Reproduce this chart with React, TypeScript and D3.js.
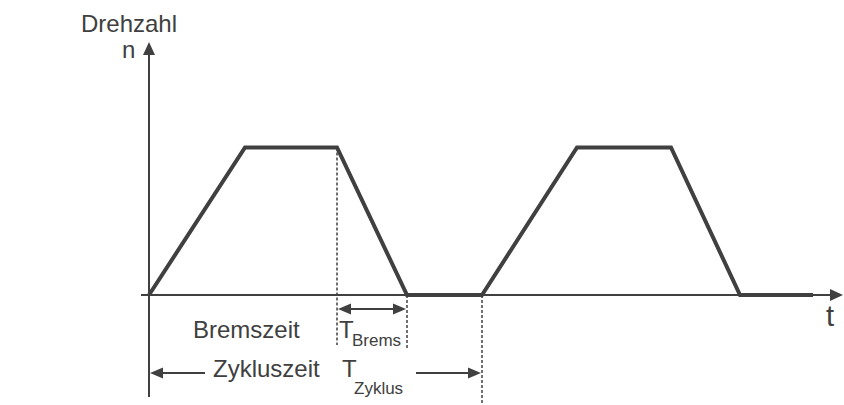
import React from 'react';
import * as d3 from 'd3';

// speed profile: two cycles of accelerate / hold / brake / stand still
const times = [0, 9.6, 18.8, 25.8, 33.3, 42.8, 52.2, 59.1, 66.4];
const speeds = [0, 1, 1, 0, 0, 1, 1, 0, 0];

// marker times for the annotations
const brakeStart = 18.8;
const brakeEnd = 25.8;
const cycleEnd = 33.3;

const labels = {
    yTitle: 'Drehzahl',
    yName: 'n',
    xName: 't',
    brake: 'Bremszeit',
    cycle: 'Zykluszeit',
};

const W = 844;
const H = 405;
const ink = '#404040';
const font = '"Liberation Sans", Arial, Helvetica, sans-serif';

const App = () => {
    const x = d3.scaleLinear().domain([0, 69.4]).range([149, 843]);
    const y = d3.scaleLinear().domain([0, 1]).range([295, 147.5]);

    const line = d3
        .line<number>()
        .x((d, i) => x(times[i]))
        .y(d => y(d));

    const x0 = x(0);
    const y0 = y(0);
    const axisEnd = x(69.4);
    const yTop = 42;

    // small filled triangle pointing in direction dir (radians), tip at (tx, ty)
    const head = (tx, ty, dir, len = 12, half = 5) => {
        const bx = tx - Math.cos(dir) * len;
        const by = ty - Math.sin(dir) * len;
        const px = -Math.sin(dir) * half;
        const py = Math.cos(dir) * half;
        return `M${tx},${ty}L${bx + px},${by + py}L${bx - px},${by - py}Z`;
    };

    const bY = 309;
    const cY = 373;

    return (
        <svg width={W} height={H} style={{ position: 'absolute', left: 0, top: 0, background: '#fff' }}>
            {/* axes */}
            <line x1={x0} x2={x0} y1={yTop + 10} y2={397} stroke={ink} strokeWidth={2} />
            <path d={head(x0, yTop, -Math.PI / 2, 13, 6)} fill={ink} />
            <line x1={141} x2={axisEnd - 10} y1={y0} y2={y0} stroke={ink} strokeWidth={2} />
            <path d={head(axisEnd, y0, 0, 13, 6)} fill={ink} />

            {/* speed curve */}
            <path d={line(speeds)} fill="none" stroke={ink} strokeWidth={4} strokeLinejoin="miter" />

            {/* dotted guides */}
            <g stroke={ink} strokeWidth={1.5} strokeDasharray="3,2">
                <line x1={x(brakeStart)} x2={x(brakeStart)} y1={y(1)} y2={345} />
                <line x1={x(brakeEnd)} x2={x(brakeEnd)} y1={y0} y2={350} />
                <line x1={x(cycleEnd)} x2={x(cycleEnd)} y1={y0} y2={405} />
            </g>

            {/* brake time arrow */}
            <line x1={x(brakeStart) + 8} x2={x(brakeEnd) - 8} y1={bY} y2={bY} stroke={ink} strokeWidth={2} />
            <path d={head(x(brakeStart) + 1, bY, Math.PI, 13, 5.5)} fill={ink} />
            <path d={head(x(brakeEnd) - 1, bY, 0, 13, 5.5)} fill={ink} />

            {/* cycle time arrows */}
            <line x1={x0 + 8} x2={205} y1={cY} y2={cY} stroke={ink} strokeWidth={2} />
            <path d={head(x0 + 1, cY, Math.PI, 13, 5.5)} fill={ink} />
            <line x1={416} x2={x(cycleEnd) - 8} y1={cY} y2={cY} stroke={ink} strokeWidth={2} />
            <path d={head(x(cycleEnd) - 1, cY, 0, 13, 5.5)} fill={ink} />

            {/* texts */}
            <g fill={ink} fontFamily={font} fontSize={24}>
                <text x={81} y={32}>{labels.yTitle}</text>
                <text x={122} y={58}>{labels.yName}</text>
                <text x={826} y={326} fontSize={29}>{labels.xName}</text>
                <text x={193} y={338}>{labels.brake}</text>
                <text x={339} y={338}>T<tspan fontSize={17} x={352} y={346}>Brems</tspan></text>
                <text x={213} y={377}>{labels.cycle}</text>
                <text x={342} y={377}>T<tspan fontSize={17} x={354} y={394}>Zyklus</tspan></text>
            </g>
        </svg>
    );
};

export default App;
